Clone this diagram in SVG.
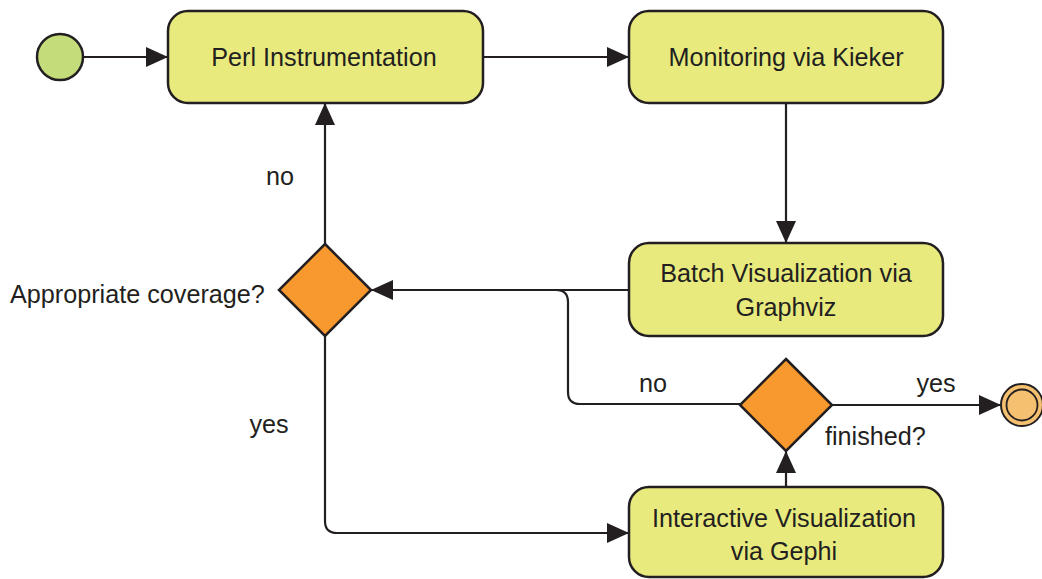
<svg xmlns="http://www.w3.org/2000/svg" width="1042" height="579" viewBox="0 0 1042 579">
<style>
.box{fill:#e8ea7e;stroke:#231f20;stroke-width:2.5}
.dia{fill:#f7992f;stroke:#231f20;stroke-width:2.5}
.t{font-family:"Liberation Sans",Arial,sans-serif;font-size:25.2px;fill:#231f20}
.c{text-anchor:middle}
.ln{fill:none;stroke:#231f20;stroke-width:2.2}
</style>
<defs>
<marker id="ah" markerUnits="userSpaceOnUse" markerWidth="22" markerHeight="20" refX="22" refY="10" orient="auto">
<path d="M0,0 L22,10 L0,20 z" fill="#231f20"/>
</marker>
</defs>
<rect width="1042" height="579" fill="#ffffff"/>
<g id="connectors">
<path class="ln" d="M83,57 H168" marker-end="url(#ah)"/>
<path class="ln" d="M483,57 H629" marker-end="url(#ah)"/>
<path class="ln" d="M786,103 V243" marker-end="url(#ah)"/>
<path class="ln" d="M629,290 H371" marker-end="url(#ah)"/>
<path class="ln" d="M325,244 V103" marker-end="url(#ah)"/>
<path class="ln" d="M325,336 V521 Q325,533 337,533 H629" marker-end="url(#ah)"/>
<path class="ln" d="M786,487 V451" marker-end="url(#ah)"/>
<path class="ln" d="M740,404 H580 Q568,404 568,392 V302 Q568,290 556,290 H520"/>
<path class="ln" d="M832,405 H1001" marker-end="url(#ah)"/>
<text class="t c" x="280" y="185">no</text>
<text class="t c" x="269" y="433">yes</text>
<text class="t c" x="653" y="392">no</text>
<text class="t c" x="936" y="392">yes</text>
</g>
<g id="start"><circle cx="60" cy="57" r="23" fill="#c5dc7a" stroke="#231f20" stroke-width="2.5"/></g>
<g id="perl"><rect class="box" x="168" y="11" width="315" height="92" rx="20"/><text class="t c" x="324" y="66">Perl Instrumentation</text></g>
<g id="kieker"><rect class="box" x="629" y="11" width="314" height="92" rx="20"/><text class="t c" x="786" y="66">Monitoring via Kieker</text></g>
<g id="graphviz"><rect class="box" x="629" y="243" width="314" height="93" rx="20"/><text class="t c" x="786" y="282">Batch Visualization via</text><text class="t c" x="786" y="316">Graphviz</text></g>
<g id="gephi"><rect class="box" x="629" y="487" width="314" height="90" rx="20"/><text class="t c" x="784" y="527">Interactive Visualization</text><text class="t c" x="784" y="560">via Gephi</text></g>
<g id="coverage"><path class="dia" d="M325,244 L371,290 L325,336 L279,290 z"/><text class="t" x="10" y="303">Appropriate coverage?</text></g>
<g id="finished"><path class="dia" d="M786,359 L832,405 L786,451 L740,405 z"/><text class="t" x="825" y="445">finished?</text></g>
<g id="end"><circle cx="1022" cy="405" r="21" fill="#f5c170" stroke="#231f20" stroke-width="2"/><circle cx="1022" cy="405" r="15.5" fill="#f5c170" stroke="#231f20" stroke-width="1.8"/></g>
</svg>
